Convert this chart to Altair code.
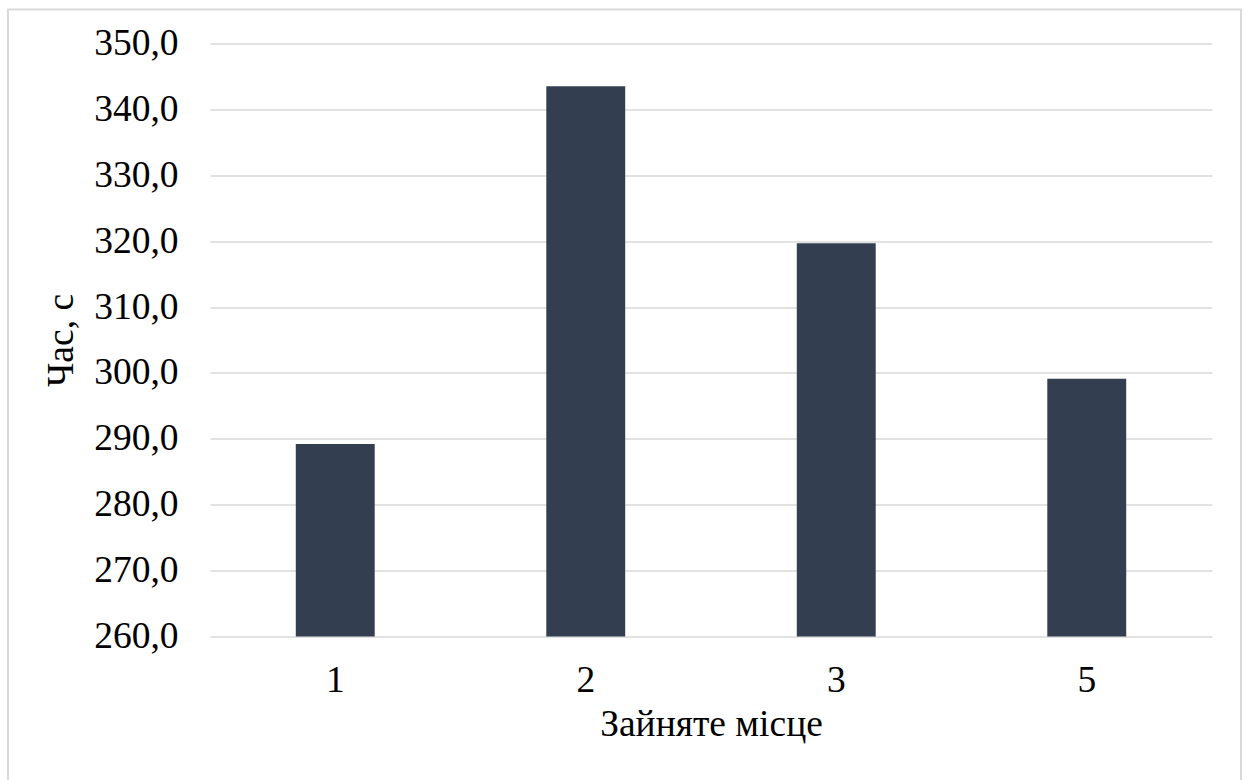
import altair as alt
import pandas as pd

places = ["1", "2", "3", "5"]
times = [289.2, 343.5, 319.7, 299.1]
y_ticks = [260, 270, 280, 290, 300, 310, 320, 330, 340, 350]

df = pd.DataFrame({"place": places, "time": times})

FONT = "Liberation Serif"
PLOT_W = 1002
PLOT_H = 593
LEFT = 210
TOP = 43.5

bars = alt.Chart(df).mark_bar(color="#333F50").encode(
    x=alt.X(
        "place:N",
        sort=places,
        scale=alt.Scale(paddingInner=0.685, paddingOuter=0.3425),
        axis=alt.Axis(
            title="Зайняте місце",
            labelAngle=0,
            ticks=False,
            domain=False,
            grid=False,
            labelPadding=25,
            titlePadding=6,
        ),
    ),
    y=alt.Y(
        "time:Q",
        scale=alt.Scale(domain=[260, 350], zero=False, nice=False, clamp=True),
        axis=alt.Axis(
            title="Час, с",
            values=y_ticks,
            format=".1f",
            labelExpr="replace(format(datum.value, '.1f'), '.', ',')",
            ticks=False,
            domain=False,
            gridColor="#D9D9D9",
            gridWidth=1.5,
            labelPadding=32,
            titlePadding=13,
        ),
    ),
)

frame = alt.Chart(pd.DataFrame({"a": [0]})).mark_rect(
    fill=None, stroke="#D9D9D9", strokeWidth=2
).encode(
    x=alt.value(8 - LEFT),
    x2=alt.value(1241 - LEFT),
    y=alt.value(9.5 - TOP),
    y2=alt.value(800),
)

chart = (
    alt.layer(frame, bars)
    .properties(
        width=PLOT_W,
        height=PLOT_H,
        autosize=alt.AutoSizeParams(type="none"),
        padding={"left": LEFT, "top": TOP, "right": 1245 - LEFT - PLOT_W, "bottom": 780 - TOP - PLOT_H},
        background="white",
    )
    .configure_view(stroke=None)
    .configure_axis(
        labelFont=FONT,
        titleFont=FONT,
        labelFontSize=37.5,
        titleFontSize=37.5,
        labelColor="#000000",
        titleColor="#000000",
        titleFontWeight="normal",
    )
)

chart.save("out.html", embed_options={"renderer": "svg", "actions": False})
